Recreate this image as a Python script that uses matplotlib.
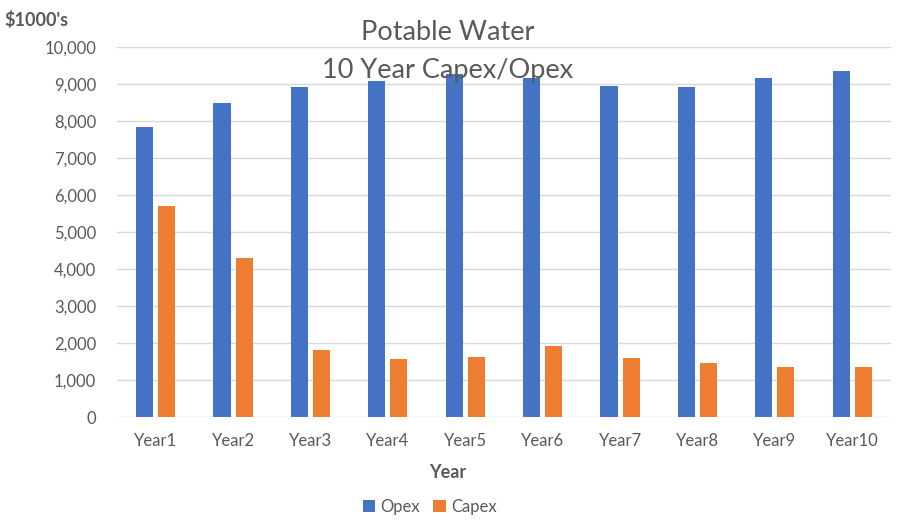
import matplotlib.pyplot as plt
import numpy as np

years = ["Year1", "Year2", "Year3", "Year4", "Year5",
         "Year6", "Year7", "Year8", "Year9", "Year10"]
opex = [7820, 8470, 8900, 9070, 9250, 9160, 8950, 8900, 9160, 9340]
capex = [5690, 4290, 1810, 1580, 1630, 1930, 1590, 1460, 1360, 1360]

plt.rcParams['font.family'] = ['Lato', 'DejaVu Sans']
grey = '#595959'

fig = plt.figure(figsize=(8.97, 5.23), dpi=100)
ax = fig.add_axes([0.1304, 0.2021, 0.8629, 0.7086])

x = np.arange(len(years))
w = 0.22
ax.bar(x - 0.143, opex, w, color='#4472C4', label='Opex', zorder=3)
ax.bar(x + 0.143, capex, w, color='#ED7D31', label='Capex', zorder=3)

ax.set_xlim(-0.5, len(years) - 0.5)
ax.set_ylim(0, 10000)
ax.set_yticks(np.arange(0, 10001, 1000))
ax.set_yticklabels([f"{v:,}" for v in range(0, 10001, 1000)])
ax.set_xticks(x)
ax.set_xticklabels(years)
ax.tick_params(axis='both', length=0, labelsize=12, colors=grey)
ax.tick_params(axis='y', pad=15)
ax.tick_params(axis='x', pad=11)
ax.yaxis.grid(True, color='#d9d9d9', linewidth=1, zorder=0)
for s in ax.spines.values():
    s.set_visible(False)

fig.text(0.4995, 0.938, "Potable Water", ha='center', va='center', fontsize=19.5, color=grey)
fig.text(0.4995, 0.866, "10 Year Capex/Opex", ha='center', va='center', fontsize=19.5, color=grey)
fig.text(0.005, 0.962, "$1000's", ha='left', va='center', fontsize=13, fontweight='bold', color=grey)
fig.text(0.4995, 0.097, "Year", ha='center', va='center', fontsize=13, fontweight='bold', color=grey)

fig.legend(loc='center', bbox_to_anchor=(0.479, 0.031), ncol=2, frameon=False,
           fontsize=12, labelcolor=grey, handlelength=0.75, handleheight=0.75,
           handletextpad=0.3, columnspacing=0.8)

fig.savefig('out.png', dpi=100)
